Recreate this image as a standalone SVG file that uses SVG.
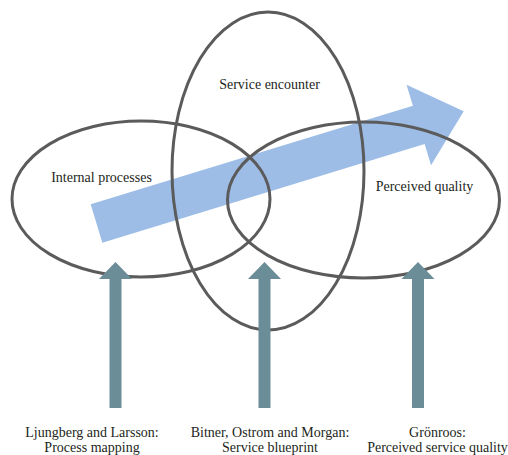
<svg xmlns="http://www.w3.org/2000/svg" width="508" height="455" viewBox="0 0 508 455">
  <style>
    .ring { fill: none; stroke: #5b5b5b; stroke-width: 3; }
    .label { font-family: "Liberation Serif", "Times New Roman", serif; font-size: 14px; fill: #231f20; text-anchor: middle; }
    .flow { fill: #9dbde6; }
    .up { fill: #6b8d97; }
  </style>
  <defs>
    <!-- upward arrow, tip at origin -->
    <path id="uparrow" d="M0,0 L16.5,17 L6,17 L6,146 L-6,146 L-6,17 L-16.5,17 Z"/>
  </defs>

  <rect width="508" height="455" fill="#ffffff"/>

  <!-- broad flow arrow behind the rings -->
  <g id="flow-arrow">
    <path class="flow" transform="translate(96.5,223.5) rotate(-17)" d="M0,-20 L337,-20 L337,-42 L384,0 L337,42 L337,20 L0,20 Z"/>
  </g>

  <g id="internal-processes">
    <ellipse class="ring" cx="141" cy="199" rx="129" ry="78"/>
    <text class="label" x="101.5" y="182">Internal processes</text>
  </g>

  <g id="service-encounter">
    <ellipse class="ring" cx="268" cy="171" rx="96" ry="159"/>
    <text class="label" x="269.5" y="89">Service encounter</text>
  </g>

  <g id="perceived-quality">
    <ellipse class="ring" cx="363.5" cy="200" rx="136" ry="78"/>
    <text class="label" x="424.5" y="191">Perceived quality</text>
  </g>

  <!-- upward arrows from each approach -->
  <g id="connectors">
    <use href="#uparrow" class="up" x="115.5" y="262"/>
    <use href="#uparrow" class="up" x="264.5" y="262"/>
    <use href="#uparrow" class="up" x="418" y="262"/>
  </g>

  <g id="process-mapping">
    <text class="label" x="92" y="437">Ljungberg and Larsson:</text>
    <text class="label" x="92" y="452">Process mapping</text>
  </g>

  <g id="service-blueprint">
    <text class="label" x="270" y="437">Bitner, Ostrom and Morgan:</text>
    <text class="label" x="270" y="452">Service blueprint</text>
  </g>

  <g id="service-quality">
    <text class="label" x="437.5" y="437">Grönroos:</text>
    <text class="label" x="437.5" y="452">Perceived service quality</text>
  </g>
</svg>
